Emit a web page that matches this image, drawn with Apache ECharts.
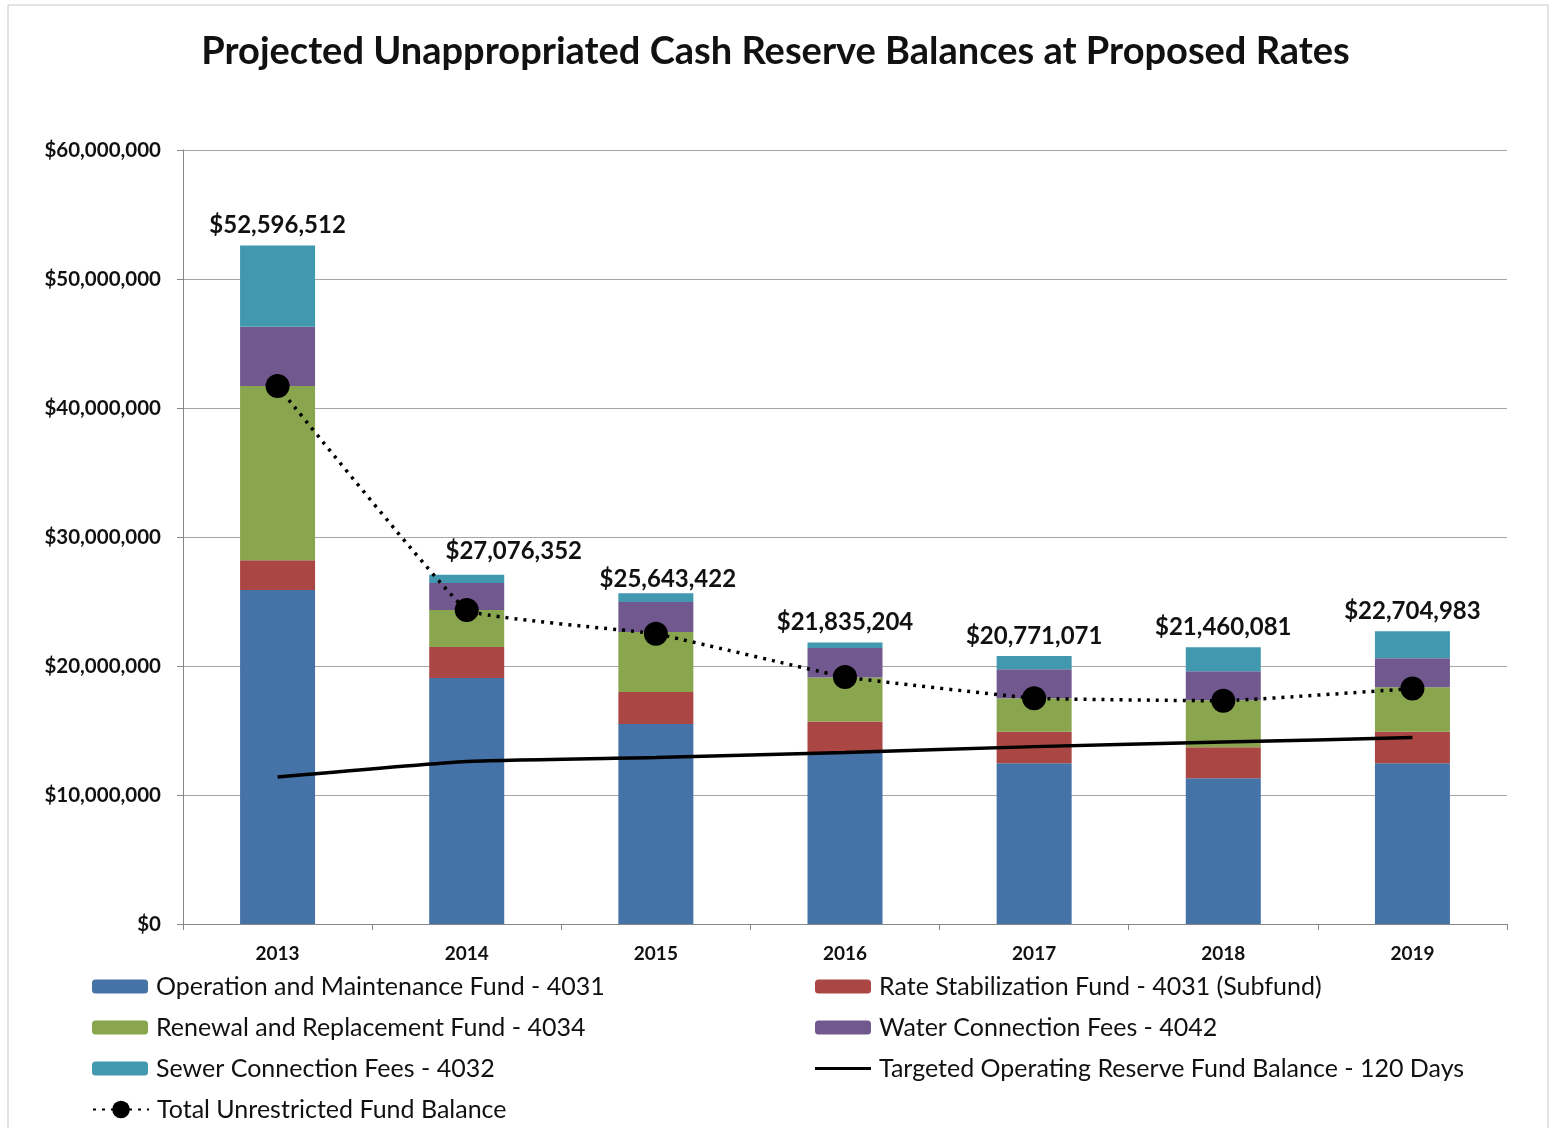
<!DOCTYPE html>
<html>
<head>
<meta charset="utf-8">
<script src="https://cdn.jsdelivr.net/npm/echarts@6/dist/echarts.min.js"></script>
<style>
  html, body { margin: 0; padding: 0; background: #fff; }
  #chart { width: 1551px; height: 1128px; }
</style>
</head>
<body>
<div id="chart"></div>
<script>
// data, in $ millions
var years = ['2013', '2014', '2015', '2016', '2017', '2018', '2019'];
var omFund = [25.9, 19.07, 15.5, 13.3, 12.46, 11.3, 12.46];
var rateStab = [2.3, 2.4, 2.48, 2.4, 2.44, 2.4, 2.44];
var renewal = [13.5, 2.87, 4.66, 3.4, 2.6, 3.65, 3.45];
var waterFees = [4.6, 2.09, 2.32, 2.3, 2.25, 2.25, 2.25];
var sewerFees = [6.3, 0.65, 0.68, 0.43, 1.02, 1.86, 2.1];
var targetReserve = [11.4, 12.6, 12.9, 13.3, 13.75, 14.1, 14.45];
var totalUnrestricted = [41.7, 24.34, 22.5, 19.15, 17.5, 17.3, 18.25];
var totalLabels = ['$52,596,512', '$27,076,352', '$25,643,422', '$21,835,204',
  '$20,771,071', '$21,460,081', '$22,704,983'];
var yTicks = ['$0', '$10,000,000', '$20,000,000', '$30,000,000', '$40,000,000',
  '$50,000,000', '$60,000,000'];

var FONT = 'Lato';
var chart = echarts.init(document.getElementById('chart'));

function barSeries(name, data, color) {
  return {
    name: name,
    type: 'bar',
    stack: 'funds',
    barWidth: 75,
    data: data,
    itemStyle: { color: color },
    z: 2
  };
}

// one legend per entry so the two columns line up like the original
function legendAt(name, left, top, icon, h) {
  var item = { name: name };
  if (icon) item.icon = icon;
  return {
    data: [item],
    left: left,
    top: top,
    padding: 0,
    itemWidth: 56,
    itemHeight: h || 14,
    textStyle: { fontFamily: FONT, fontSize: 25, color: '#111', padding: [0, 0, 0, 3] },
    selectedMode: false
  };
}

// in the original two total labels were nudged aside to clear the dotted line
var nudged = { 1: [47, -3], 2: [12, 6] };
var sewer = barSeries('Sewer Connection Fees - 4032', sewerFees.map(function (v, i) {
  return nudged[i] ? { value: v, label: { offset: nudged[i] } } : v;
}), '#4198AF');
sewer.label = {
  show: true,
  position: 'top',
  distance: 8,
  fontFamily: FONT,
  fontSize: 24,
  fontWeight: 'bold',
  color: '#111',
  formatter: function (p) { return totalLabels[p.dataIndex]; }
};

var option = {
  animation: false,
  backgroundColor: '#fff',
  title: {
    text: 'Projected Unappropriated Cash Reserve Balances at Proposed Rates',
    left: 'center',
    top: 28,
    textStyle: { fontFamily: FONT, fontSize: 38, fontWeight: 'bold', color: '#111' }
  },
  graphic: [{
    type: 'rect',
    shape: { x: 8, y: 5, width: 1540, height: 1130 },
    style: { fill: null, stroke: '#c8c8c8', lineWidth: 1 },
    silent: true
  }],
  grid: { left: 183, right: 44, top: 150, bottom: 204 },
  legend: [
    legendAt('Operation and Maintenance Fund - 4031', 92, 974),
    legendAt('Rate Stabilization Fund - 4031 (Subfund)', 815, 974),
    legendAt('Renewal and Replacement Fund - 4034', 92, 1015),
    legendAt('Water Connection Fees - 4042', 815, 1015),
    legendAt('Sewer Connection Fees - 4032', 92, 1056),
    legendAt('Targeted Operating Reserve Fund Balance - 120 Days', 815, 1056,
      'path://M0,0 L56,0 L56,3 L0,3 Z', 3.5),
    legendAt('Total Unrestricted Fund Balance', 92, 1097, null, 22)
  ],
  xAxis: {
    type: 'category',
    data: years,
    axisLine: { lineStyle: { color: '#888', width: 1 } },
    axisTick: { show: true, length: 6, lineStyle: { color: '#888' } },
    axisLabel: { fontFamily: FONT, fontSize: 19, fontWeight: 'bold', color: '#111', margin: 20 }
  },
  yAxis: {
    type: 'value',
    min: 0,
    max: 60,
    interval: 10,
    axisLine: { show: true, lineStyle: { color: '#888', width: 1 } },
    axisTick: { show: true, length: 6, lineStyle: { color: '#888' } },
    splitLine: { lineStyle: { color: '#a6a6a6', width: 1 } },
    axisLabel: {
      fontFamily: FONT, fontSize: 20.5, fontWeight: 'bold', color: '#111', margin: 22,
      formatter: function (v) { return yTicks[Math.round(v / 10)]; }
    }
  },
  series: [
    barSeries('Operation and Maintenance Fund - 4031', omFund, '#4572A7'),
    barSeries('Rate Stabilization Fund - 4031 (Subfund)', rateStab, '#AA4643'),
    barSeries('Renewal and Replacement Fund - 4034', renewal, '#89A54E'),
    barSeries('Water Connection Fees - 4042', waterFees, '#71588F'),
    sewer,
    {
      name: 'Targeted Operating Reserve Fund Balance - 120 Days',
      type: 'line',
      data: targetReserve,
      smooth: 0.15,
      symbol: 'none',
      lineStyle: { color: '#000', width: 3.5 },
      itemStyle: { color: '#000' },
      z: 5
    },
    {
      name: 'Total Unrestricted Fund Balance',
      type: 'line',
      data: totalUnrestricted,
      smooth: 0.08,
      symbol: 'circle',
      symbolSize: 24,
      lineStyle: { color: '#000', width: 3.5, type: [3, 6] },
      itemStyle: { color: '#000' },
      z: 6
    }
  ]
};

chart.setOption(option);
</script>
</body>
</html>
